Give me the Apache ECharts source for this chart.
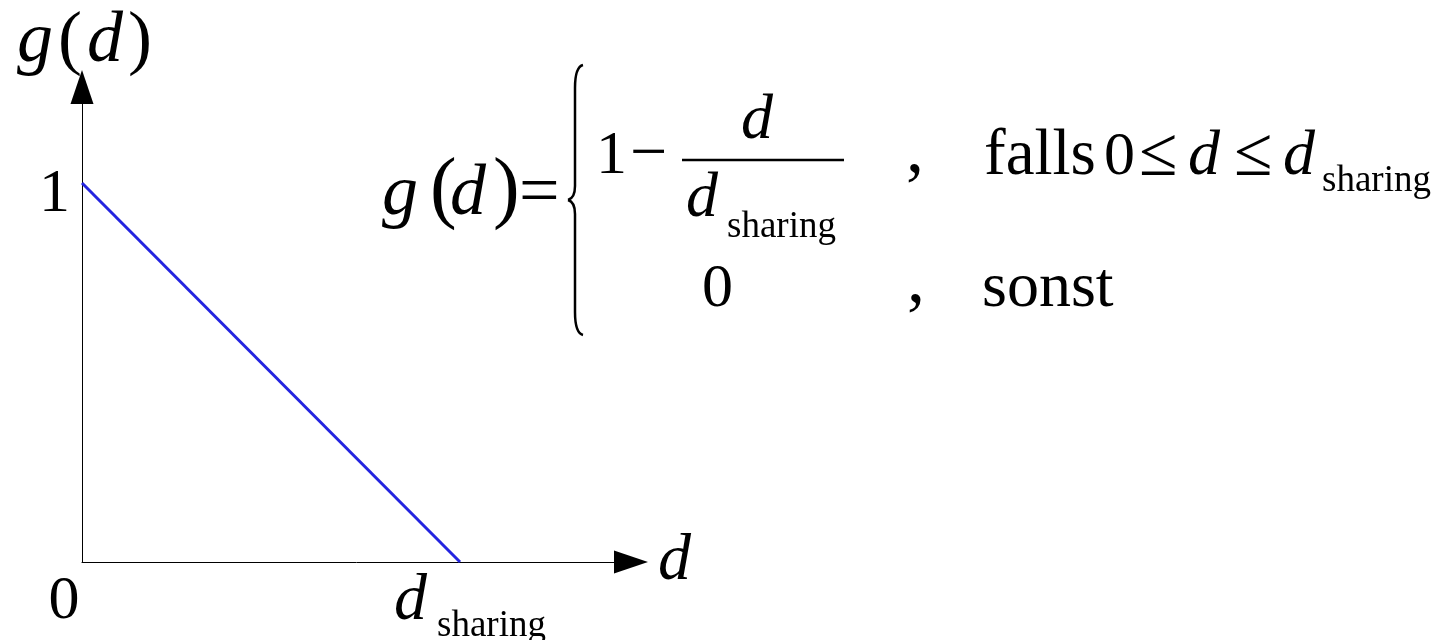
<!DOCTYPE html>
<html>
<head>
<meta charset="utf-8">
<script src="https://cdn.jsdelivr.net/npm/echarts@6/dist/echarts.min.js"></script>
<style>
  html, body { margin: 0; padding: 0; background: #fff; }
  #main { width: 1453px; height: 640px; }
</style>
</head>
<body>
<div id="main"></div>
<script>
// g(d) = 1 - d / d_sharing, von 0 bis d_sharing (d_sharing = 1)
const dValues = [0, 1];
const gValues = [1, 0];
const xTickValues = [0, 1];
const xTickLabels = ['{z|0}', '{d|d}{s|sharing}'];
const yTickValues = [1];
const yTickLabels = ['{a|1}'];

const SERIF = 'Liberation Serif';
const chart = echarts.init(document.getElementById('main'));

// text helper for the formula, x = left edge, base = baseline
function t(x, base, str, fs, italic) {
  return {
    type: 'text',
    x: x,
    y: base - 0.32 * fs,
    style: {
      text: str,
      fontFamily: SERIF,
      fontSize: fs,
      fontStyle: italic ? 'italic' : 'normal',
      fill: '#000',
      align: 'left',
      verticalAlign: 'middle'
    }
  };
}
function bez(x1, y1, cx, cy, x2, y2) {
  return {
    type: 'bezierCurve',
    shape: { x1: x1, y1: y1, cpx1: cx, cpy1: cy, x2: x2, y2: y2 },
    style: { stroke: '#000', lineWidth: 2.5, fill: null }
  };
}
function seg(x1, y1, x2, y2, w) {
  return {
    type: 'line',
    shape: { x1: x1, y1: y1, x2: x2, y2: y2 },
    style: { stroke: '#000', lineWidth: w }
  };
}

const formula = [
  t(382, 218, 'g', 72, true),
  t(430, 218, '(', 80, false),
  t(450, 218, 'd', 72, true),
  t(493, 218, ')', 80, false),
  t(519, 218, '=', 72, false),
  // brace
  bez(583, 65, 575, 67, 575, 88),
  seg(575, 88, 575, 186, 2.5),
  bez(575, 186, 575, 198, 568, 200),
  bez(568, 200, 575, 202, 575, 214),
  seg(575, 214, 575, 312, 2.5),
  bez(575, 312, 575, 333, 583, 335),
  // row 1
  t(596, 177, '1', 62, false),
  t(630, 177, '\u2212', 66, false),
  seg(682, 160, 844, 160, 2.5),
  t(741, 142, 'd', 64, true),
  t(686, 220, 'd', 64, true),
  t(727, 239, 'sharing', 37, false),
  t(906, 175, ',', 72, false),
  t(984, 178, 'falls', 65, false),
  t(1104, 178, '0', 62, false),
  t(1139, 179, '\u2264', 70, false),
  t(1188, 178, 'd', 64, true),
  t(1234, 179, '\u2264', 70, false),
  t(1283, 178, 'd', 64, true),
  t(1322, 193, 'sharing', 37, false),
  // row 2
  t(702, 310, '0', 62, false),
  t(907, 305, ',', 72, false),
  t(982, 310, 'sonst', 64, false)
];

const option = {
  animation: false,
  backgroundColor: '#fff',
  grid: { left: 82, right: 822, top: 87, bottom: 78, containLabel: false, outerBoundsMode: 'none' },
  xAxis: {
    type: 'value',
    min: 0,
    max: 1.4524,
    name: 'd',
    nameLocation: 'end',
    nameGap: 27,
    nameTextStyle: { fontFamily: SERIF, fontSize: 66, fontStyle: 'italic', color: '#000', verticalAlign: 'middle', padding: [6, 0, 0, 0] },
    axisLine: { show: true, onZero: true, symbol: ['none', 'triangle'], symbolSize: [23, 34], lineStyle: { color: '#000', width: 1 } },
    axisTick: { show: false },
    splitLine: { show: false },
    axisLabel: {
      customValues: xTickValues,
      margin: 19,
      formatter: function (v) { return xTickLabels[xTickValues.indexOf(v)]; },
      rich: {
        z: { fontFamily: SERIF, fontSize: 62, lineHeight: 66, color: '#000', padding: [0, 36, 24, 0] },
        d: { fontFamily: SERIF, fontSize: 66, lineHeight: 66, fontStyle: 'italic', color: '#000', padding: [0, 0, 24, 20] },
        s: { fontFamily: SERIF, fontSize: 37, color: '#000', padding: [24, 0, 0, 10] }
      }
    }
  },
  yAxis: {
    type: 'value',
    min: 0,
    max: 1.2533,
    name: '{i|g}{p|(}{i|d}{p|)}',
    nameLocation: 'end',
    nameGap: 9,
    nameTextStyle: {
      rich: {
        i: { fontFamily: SERIF, fontSize: 72, lineHeight: 72, fontStyle: 'italic', color: '#000', padding: [0, 5, 0, 5] },
        p: { fontFamily: SERIF, fontSize: 72, lineHeight: 72, color: '#000' }
      }
    },
    axisLine: { show: true, symbol: ['none', 'triangle'], symbolSize: [23, 34], lineStyle: { color: '#000', width: 1 } },
    axisTick: { show: false },
    splitLine: { show: false },
    axisLabel: {
      customValues: yTickValues,
      margin: 12,
      formatter: function (v) { return yTickLabels[yTickValues.indexOf(v)]; },
      rich: {
        a: { fontFamily: SERIF, fontSize: 62, color: '#000', padding: [24, 0, 0, 0] }
      }
    }
  },
  series: [{
    type: 'line',
    data: dValues.map(function (d, i) { return [d, gValues[i]]; }),
    symbol: 'none',
    lineStyle: { color: '#2424e0', width: 3 }
  }],
  graphic: formula
};

chart.setOption(option);
</script>
</body>
</html>
